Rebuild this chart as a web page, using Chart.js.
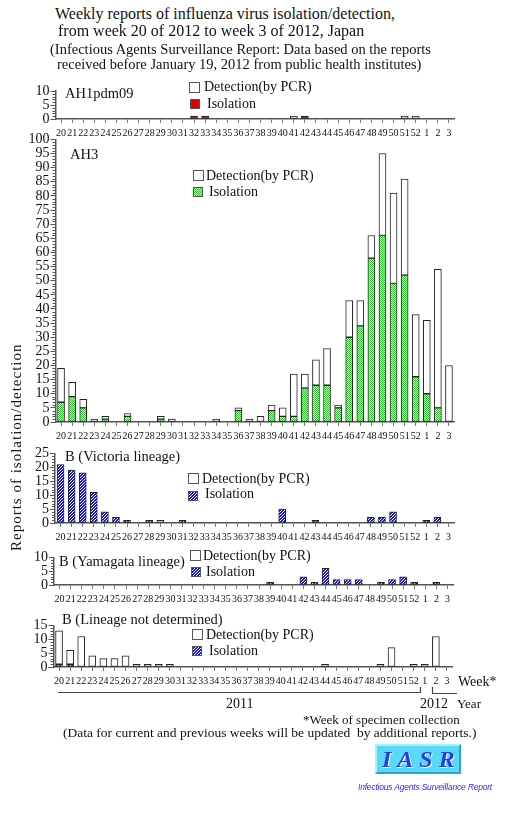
<!DOCTYPE html>
<html><head><meta charset="utf-8">
<script src="https://cdn.jsdelivr.net/npm/chart.js@4.4.0/dist/chart.umd.min.js"></script>
<style>
body{margin:0;background:#fff;}
#wrap{position:relative;width:529px;height:816px;overflow:hidden;font-family:"Liberation Serif","DejaVu Serif",serif;color:#111;background:#fff;}
canvas{position:absolute;left:0;}
.t{position:absolute;white-space:nowrap;line-height:1;}
.sw{position:absolute;box-sizing:border-box;border:1.5px solid #555;background:#fff;}
</style></head><body><div id="wrap"></div>
<script>
// ---- data ----
const weeks = ['20','21','22','23','24','25','26','27','28','29','30','31','32','33','34','35','36','37','38','39','40','41','42','43','44','45','46','47','48','49','50','51','52','1','2','3'];
const ah1Iso = [0,0,0,0,0,0,0,0,0,0, 0,0,1,1,0,0,0,0,0,0, 0,0,1,0,0,0,0,0,0,0, 0,0,0,0,0,0];
const ah1Det = [0,0,0,0,0,0,0,0,0,0, 0,0,0,0,0,0,0,0,0,0, 0,1,0,0,0,0,0,0,0,0, 0,1,1,0,0,0];
const ah3Iso = [7,9,5,0,1,0,2,0,0,1, 0,0,0,0,0,0,4,0,0,4, 2,2,12,13,13,5,30,34,58,66, 49,52,16,10,5,0];
const ah3Det = [12,5,3,1,1,0,1,0,0,1, 1,0,0,0,1,0,1,1,2,2, 3,15,5,9,13,1,13,9,8,29, 32,34,22,26,49,20];
const vicIso = [21,19,18,11,4,2,1,0,1,0, 0,1,0,0,0,0,0,0,0,0, 5,0,0,1,0,0,0,0,2,2, 4,0,0,1,2,0];
const vicDet = [0,0,0,0,0,0,0,0,0,1, 0,0,0,0,0,0,0,0,0,0, 0,0,0,0,0,0,0,0,0,0, 0,0,0,0,0,0];
const yamIso = [0,0,0,0,0,0,0,0,0,0, 0,0,0,0,0,0,0,0,0,1, 0,0,3,1,6,2,2,2,0,1, 2,3,1,0,1,0];
const yamDet = [0,0,0,0,0,0,0,0,0,0, 0,0,0,0,0,0,0,0,0,0, 0,0,0,0,0,0,0,0,0,0, 0,0,0,0,0,0];
const ndIso  = [1,1,0,0,0,0,0,0,0,0, 0,0,0,0,0,0,0,0,0,0, 0,0,0,0,0,0,0,0,0,0, 0,0,0,0,0,0];
const ndDet  = [12,5,11,4,3,3,4,1,1,1, 1,0,0,0,0,0,0,0,0,0, 0,0,0,0,1,0,0,0,0,1, 7,0,1,1,11,0];

const wrap = document.getElementById('wrap');
const FONT = '"Liberation Serif","DejaVu Serif",serif';

// ---- patterns ----
function tileChecker(c){const cv=document.createElement('canvas');cv.width=2;cv.height=2;const x=cv.getContext('2d');x.fillStyle='#fff';x.fillRect(0,0,2,2);x.fillStyle=c;x.fillRect(0,0,1,1);x.fillRect(1,1,1,1);return cv;}
function tileHatch(c){const cv=document.createElement('canvas');cv.width=3;cv.height=3;const x=cv.getContext('2d');x.fillStyle=c;x.fillRect(0,0,3,3);x.fillStyle='#fff';x.fillRect(0,2,1,1);x.fillRect(1,1,1,1);x.fillRect(2,0,1,1);return cv;}
const pctx = document.createElement('canvas').getContext('2d');
const greenTile = tileChecker('#22cc22');
const blueTile = tileHatch('#1414e6');
const greenPat = pctx.createPattern(greenTile,'repeat');
const bluePat = pctx.createPattern(blueTile,'repeat');
const RED = '#e00000';

function T(txt,x,yc,size,style){const d=document.createElement('div');d.className='t';d.textContent=txt;d.style.left=x+'px';d.style.top=(yc-size/2)+'px';d.style.fontSize=size+'px';if(style)d.style.cssText+=style;wrap.appendChild(d);return d;}
function SW(x,y,w,h,bg){const d=document.createElement('div');d.className='sw';d.style.left=x+'px';d.style.top=y+'px';d.style.width=w+'px';d.style.height=h+'px';if(bg)d.style.background=bg;wrap.appendChild(d);}

const minorTicks = {id:'minorTicks',afterDraw(chart){const y=chart.scales.y;const ctx=chart.ctx;ctx.save();ctx.strokeStyle='#555';ctx.lineWidth=1;for(let v=y.min;v<=y.max;v++){if(v%5===0)continue;const py=Math.round(y.getPixelForValue(v))+0.5;ctx.beginPath();ctx.moveTo(y.right-3,py);ctx.lineTo(y.right,py);ctx.stroke();}ctx.restore();}};

function panel(top,height,padTop,left,ymax,iso,det,isoFill){
  const cv=document.createElement('canvas');cv.width=529;cv.height=height;cv.style.top=top+'px';cv.style.width='529px';cv.style.height=height+'px';wrap.appendChild(cv);
  const right = left + 399;
  const ds = (data,fill)=>({data:data,backgroundColor:fill,borderColor:'#222',borderWidth:1,borderSkipped:false,barThickness:7,stack:'s'});
  new Chart(cv,{type:'bar',plugins:[minorTicks],
    data:{labels:weeks,datasets:[ds(iso,isoFill),ds(det,'#ffffff')]},
    options:{responsive:false,animation:false,devicePixelRatio:1,
      layout:{padding:{top:padTop,left:0,right:529-right,bottom:0}},
      plugins:{legend:{display:false},tooltip:{enabled:false}},
      scales:{
        x:{stacked:true,offset:true,
           grid:{offset:false,drawOnChartArea:false,drawTicks:true,tickLength:4,color:'#777'},
           border:{color:'#555',width:1.5},
           ticks:{autoSkip:false,maxRotation:0,minRotation:0,padding:4,color:'#111',font:{family:FONT,size:10}},
           afterFit(s){s.height=24;}},
        y:{stacked:true,min:0,max:ymax,
           ticks:{stepSize:5,autoSkip:false,padding:1,color:'#111',font:{family:FONT,size:14}},
           grid:{drawOnChartArea:false,drawTicks:true,tickLength:5,color:'#555'},
           border:{color:'#555',width:1.5},
           afterFit(s){s.width=left;}}
      }}});
}

panel(80,63,11,55.5,10,ah1Iso,ah1Det,RED);
panel(130,316,9,55.5,100,ah3Iso,ah3Det,greenPat);
panel(444,103,9,55,25,vicIso,vicDet,bluePat);
panel(548,61,9,54,10,yamIso,yamDet,bluePat);
panel(616,75,9,53.5,15,ndIso,ndDet,bluePat);

// ---- titles ----
T('Weekly reports of influenza virus isolation/detection,',55,14,16);
T('from week 20 of 2012 to week 3 of 2012, Japan',58,31,16);
T('(Infectious Agents Surveillance Report: Data based on the reports',50,49,14.5);
T('received before January 19, 2012 from public health institutes)',57,64,14.5);

// panel labels
T('AH1pdm09',65,93,14.5);
T('AH3',70,154,14.5);
T('B (Victoria lineage)',65,456,14.5);
T('B (Yamagata lineage)',59,561,14.5);
T('B (Lineage not determined)',62,619,14.5);

// legends
const green = 'url('+greenTile.toDataURL()+')';
const blue = 'url('+blueTile.toDataURL()+')';
function legend(dx,dy,ix,iy,tx1,ty1,tx2,ty2,bg){
  SW(dx,dy,11,11,null);SW(ix,iy,10,10,bg);
  T('Detection(by PCR)',tx1,ty1,14);T('Isolation',tx2,ty2,14);
}
legend(189,82,190,99,204,87,207,104,RED);
legend(193,170,193,187,206,176,209,192,green);
legend(188,473,188,491,202,479,205,494,blue);
legend(190,550,191,567,203,556,206,572,blue);
legend(192,629,192,646,206,635,209,651,blue);

// y axis title
const yt=T('Reports of isolation/detection',0,0,15,'transform-origin:0 0;letter-spacing:1px;');
yt.style.left='9px';yt.style.top='551px';yt.style.transform='rotate(-90deg)';

// x axis extras
T('Week*',458,682,14);
T('2011',226,704,14);
T('2012',420,704,14);
T('Year',457,703,13);
T('*Week of specimen collection',303,719,13);
T('(Data for current and previous weeks will be updated  by additional reports.)',63,733,13.5,'white-space:pre;');

const svgNS='http://www.w3.org/2000/svg';
const svg=document.createElementNS(svgNS,'svg');svg.setAttribute('width','529');svg.setAttribute('height','816');svg.style.cssText='position:absolute;left:0;top:0;';
function P(d){const p=document.createElementNS(svgNS,'path');p.setAttribute('d',d);p.setAttribute('stroke','#444');p.setAttribute('stroke-width','1.2');p.setAttribute('fill','none');svg.appendChild(p);}
P('M58 692.5 H420.5 V687');P('M432.5 687 V693.5 H457');
wrap.appendChild(svg);

// IASR logo
const logo=document.createElement('div');
logo.style.cssText='position:absolute;left:375px;top:744px;width:86px;height:30px;box-sizing:border-box;background:#5ad9f7;border-top:2px solid #a8efff;border-left:2px solid #a8efff;border-right:2px solid #2aa6cc;border-bottom:2px solid #2aa6cc;';
wrap.appendChild(logo);
T('IASR',382,759,24,'font-weight:bold;font-style:italic;color:#1f3cf0;letter-spacing:6px;text-shadow:1px 1px 0 #fff;');
T('Infectious Agents Surveillance Report',358,787,8.5,'font-family:"Liberation Sans",Arial,sans-serif;font-style:italic;color:#2a2aff;letter-spacing:-0.2px;');
</script></body></html>
